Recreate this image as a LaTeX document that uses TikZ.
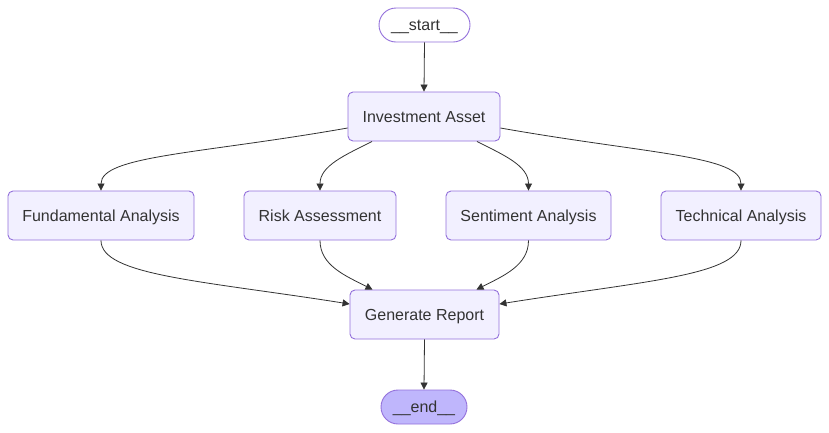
\documentclass[tikz,border=0pt]{standalone}
\usepackage{fontspec}
\setmainfont{Liberation Sans}
\usetikzlibrary{arrows.meta,positioning}
\definecolor{mmfill}{HTML}{F2F0FF}
\definecolor{mmline}{HTML}{9370DB}
\definecolor{mmtext}{HTML}{333333}
\definecolor{mmend}{HTML}{BFB6FC}
\tikzset{
  box/.style={draw=mmline, fill=mmfill, line width=0.9pt, rounded corners=5pt,
    minimum height=49pt, inner sep=0pt, text height=11.5pt, text depth=0pt,
    text=mmtext, font=\fontsize{16}{19}\selectfont},
  pill/.style={box, rounded corners=17pt, minimum height=34pt, fill=white},
  endpill/.style={pill, fill=mmend},
  edge/.style={draw=mmtext, line width=0.8pt, -{Triangle[length=7pt,width=7pt]}}
}
\begin{document}
\begin{tikzpicture}[x=1pt,y=1pt]
\useasboundingbox (0,0) rectangle (829,-432);
% Nodes
\node[pill, minimum width=91pt] (start) at (424.5,-25) {\_\_start\_\_};
\node[box, minimum width=152pt] (invest) at (424,-116.5) {Investment Asset};
\node[box, minimum width=186pt] (fund) at (101,-215.5) {Fundamental Analysis};
\node[box, minimum width=152pt] (risk) at (320,-215.5) {Risk Assessment};
\node[box, minimum width=165pt] (sent) at (528.5,-215.5) {Sentiment Analysis};
\node[box, minimum width=160pt] (tech) at (741,-215.5) {Technical Analysis};
\node[box, minimum width=149pt] (report) at (424.5,-314.5) {Generate Report};
\node[endpill, minimum width=86pt] (end) at (424,-407) {\_\_end\_\_};
% Edges from start
\draw[edge] (start.south) -- (invest.north);
% Fan out to the analyses
\draw[edge] ([yshift=-11.5pt]invest.west) to[out=190, in=90, out distance=150pt, in distance=35pt] (fund.north);
\draw[edge] ([xshift=-52pt]invest.south) to[out=207, in=90, out distance=30pt, in distance=25pt] (risk.north);
\draw[edge] ([xshift=53pt]invest.south) to[out=-27, in=90, out distance=30pt, in distance=25pt] (sent.north);
\draw[edge] ([yshift=-11.5pt]invest.east) to[out=-10, in=90, out distance=150pt, in distance=35pt] (tech.north);
% Fan in to the report
\draw[edge] (fund.south) to[out=-90, in=171, out distance=35pt, in distance=150pt] ([yshift=10.5pt]report.west);
\draw[edge] (risk.south) to[out=-90, in=153, out distance=25pt, in distance=30pt] ([xshift=-52pt]report.north);
\draw[edge] (sent.south) to[out=-90, in=27, out distance=25pt, in distance=30pt] ([xshift=52pt]report.north);
\draw[edge] (tech.south) to[out=-90, in=9, out distance=35pt, in distance=150pt] ([yshift=10.5pt]report.east);
% Edge to end
\draw[edge] (report.south) -- (end.north);
\end{tikzpicture}
\end{document}
